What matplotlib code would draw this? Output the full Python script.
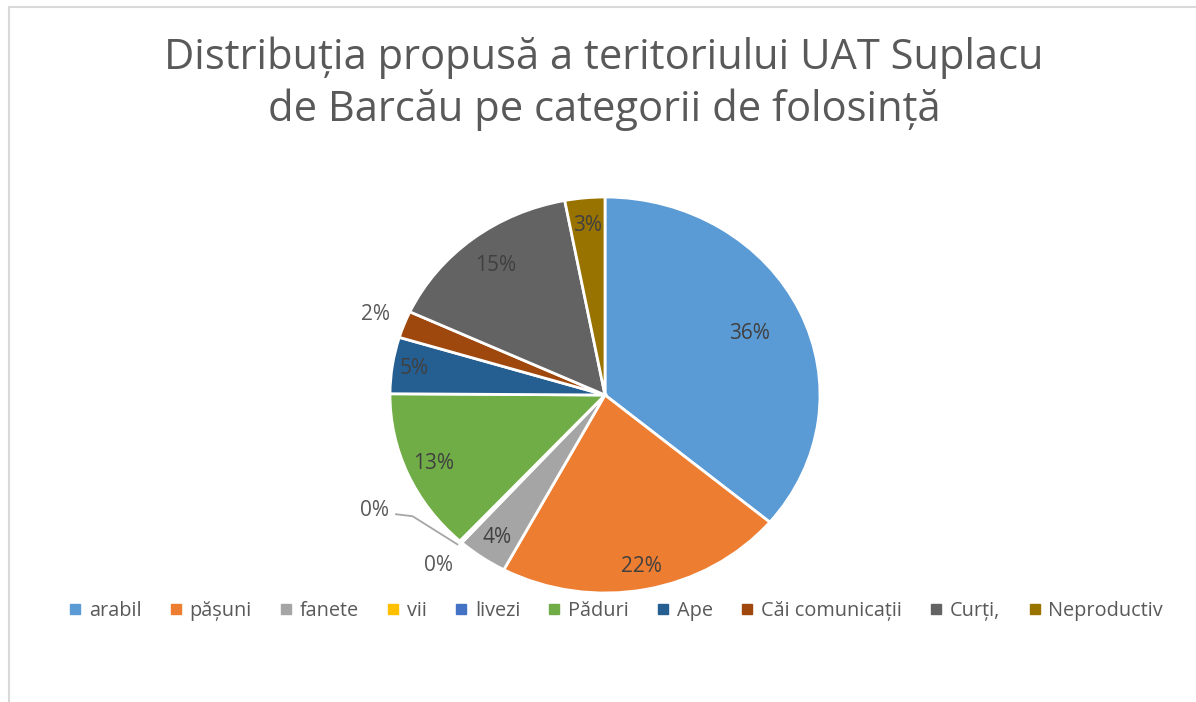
import numpy as np
import matplotlib
matplotlib.use("Agg")
import matplotlib.pyplot as plt
from matplotlib.lines import Line2D
from matplotlib.patches import Rectangle

categories = ["arabil", "pășuni", "fanete", "vii", "livezi", "Păduri", "Ape",
              "Căi comunicații", "Curți,", "Neproductiv"]
values = [36.1, 21.7, 3.8, 0.1, 0.1, 13.3, 4.6, 2.2, 15.1, 3.0]
colors = ["#5B9BD5", "#ED7D31", "#A5A5A5", "#FFC000", "#4472C4", "#70AD47",
          "#255E91", "#9E480E", "#636363", "#997300"]
title = "Distribuția propusă a teritoriului UAT Suplacu\nde Barcău pe categorii de folosință"

FONT = ["Open Sans", "DejaVu Sans"]
plt.rcParams['font.family'] = FONT

W, H = 1196, 702
fig = plt.figure(figsize=(W / 100, H / 100), dpi=100)

# chart border (right/bottom beyond image)
fig.patches.append(Rectangle((9 / W, -0.1), 1.2, 1 - 7 / H + 0.1, transform=fig.transFigure,
                             fill=False, edgecolor="#D9D9D9", linewidth=1.5))

cx, cy, rx, ry = 605, 395, 215, 198
ax = fig.add_axes([(cx - rx) / W, (H - cy - ry) / H, 2 * rx / W, 2 * ry / H])
wedges, _ = ax.pie(values, colors=colors, startangle=90, counterclock=False,
                   wedgeprops=dict(edgecolor="white", linewidth=2))
ax.set_aspect('auto')
ax.set_xlim(-1, 1)
ax.set_ylim(-1, 1)
ax.axis('off')

total = sum(values)
pcts = [f"{round(v / total * 100):.0f}%" for v in values]
# radial distance of each label (>1 means outside)
label_r = [0.74, 0.88, 0.88, 1.16, 1.22, 0.87, 0.9, 1.14, 0.83, 0.86]
label_dang = [0, 0, 0, 0, -19.2, 0, 0, 0, 0, 0]
cum = 0
for i, v in enumerate(values):
    mid = 90 - (cum + v / 2) / total * 360
    cum += v
    a = np.deg2rad(mid + label_dang[i])
    x, y = label_r[i] * np.cos(a), label_r[i] * np.sin(a)
    col = "#404040" if label_r[i] < 1 else "#595959"
    ax.text(x, y, pcts[i], ha='center', va='center', fontsize=15, color=col)
    if i == 4:
        am = np.deg2rad(mid)
        ex, ey = 1.02 * np.cos(am), 1.02 * np.sin(am)
        ax.plot([x + 0.1, x + 0.177, ex], [y - 0.02, y - 0.03, ey], color="#A6A6A6",
                lw=1.3, clip_on=False)

fig.text(604 / W, 1 - 84 / H, title, ha='center', va='center', fontsize=30,
         color="#595959", linespacing=1.28)

handles = [Line2D([], [], marker='s', linestyle='none', markersize=7.5,
                  markerfacecolor=c, markeredgecolor=c) for c in colors]
fig.legend(handles, categories, loc='center', bbox_to_anchor=(616 / W, 1 - 611 / H),
           ncol=len(categories), frameon=False, fontsize=14.3, labelcolor="#595959",
           handlelength=0.6, handletextpad=0.4, columnspacing=1.42)

fig.savefig("out.png", dpi=100)
